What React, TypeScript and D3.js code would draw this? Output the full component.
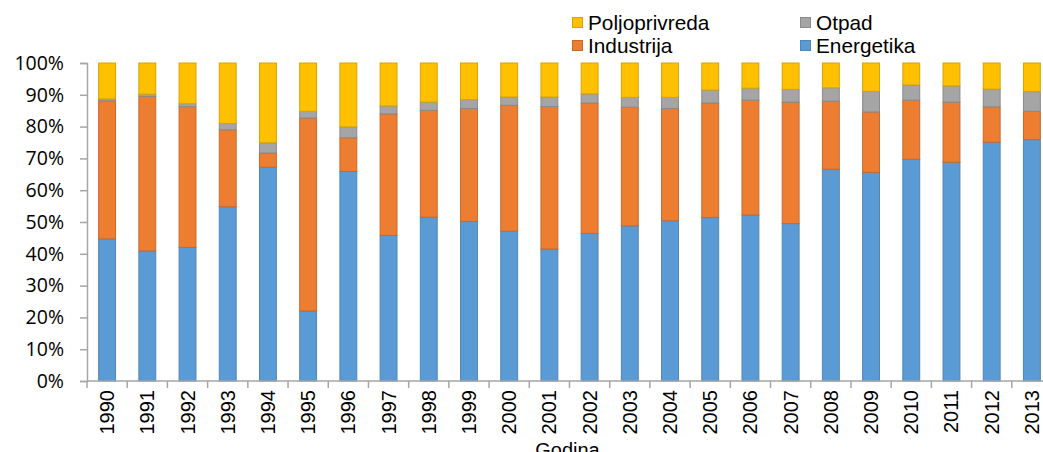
import React, { useEffect, useRef } from "react";
import * as d3 from "d3";

const years = [
  "1990", "1991", "1992", "1993", "1994", "1995", "1996", "1997",
  "1998", "1999", "2000", "2001", "2002", "2003", "2004", "2005",
  "2006", "2007", "2008", "2009", "2010", "2011", "2012", "2013",
];

// shares in %
const energetika = [
  44.7, 40.9, 42.0, 54.8, 67.2, 22.0, 65.9, 45.8, 51.5, 50.2, 47.1, 41.5,
  46.4, 48.8, 50.4, 51.4, 52.2, 49.5, 66.6, 65.6, 69.7, 68.8, 75.1, 75.9,
];
const industrija = [
  43.4, 48.6, 44.3, 24.2, 4.5, 60.7, 10.6, 38.2, 33.6, 35.5, 39.6, 44.8,
  41.0, 37.3, 35.3, 36.0, 36.1, 38.2, 21.4, 19.0, 18.6, 18.9, 11.1, 8.9,
];
const otpad = [
  0.6, 0.7, 0.9, 2.0, 3.2, 2.1, 3.4, 2.5, 2.6, 2.8, 2.6, 3.0,
  2.9, 3.1, 3.5, 4.1, 3.8, 4.0, 4.2, 6.5, 4.8, 5.1, 5.6, 6.2,
];
const poljoprivreda = [
  11.3, 9.8, 12.8, 19.0, 25.1, 15.2, 20.1, 13.5, 12.3, 11.5, 10.7, 10.7,
  9.7, 10.8, 10.8, 8.5, 7.9, 8.3, 7.8, 8.9, 6.9, 7.2, 8.2, 9.0,
];

const seriesKeys = ["Energetika", "Industrija", "Otpad", "Poljoprivreda"];
const yTicks = [0, 0.1, 0.2, 0.3, 0.4, 0.5, 0.6, 0.7, 0.8, 0.9, 1];

const colors: Record<string, string> = {
  Energetika: "#5B9BD5",
  Industrija: "#ED7D31",
  Otpad: "#A5A5A5",
  Poljoprivreda: "#FFC000",
};
const strokes: Record<string, string> = {
  Energetika: "#4F86B8",
  Industrija: "#C8692A",
  Otpad: "#8A8A8A",
  Poljoprivreda: "#D9A300",
};

const W = 1043;
const H = 452;

export default function App() {
  const svgRef = useRef<SVGSVGElement>(null);

  useEffect(() => {
    const svg = d3.select(svgRef.current);
    svg.selectAll("*").remove();

    const left = 87;
    const right = 1052;
    const top = 63;
    const bottom = 381;

    const rows = years.map((y, i) => {
      const total = energetika[i] + industrija[i] + otpad[i] + poljoprivreda[i];
      return {
        year: y,
        Energetika: energetika[i] / total,
        Industrija: industrija[i] / total,
        Otpad: otpad[i] / total,
        Poljoprivreda: poljoprivreda[i] / total,
      };
    });

    const x = d3.scaleBand().domain(years).range([left, right]).padding(0);
    const y = d3.scaleLinear().domain([0, 1]).range([bottom, top]);
    const barW = x.bandwidth() * 0.42;

    const stacked = d3.stack<any>().keys(seriesKeys)(rows);

    const g = svg.append("g");
    stacked.forEach((layer) => {
      g.append("g")
        .selectAll("rect")
        .data(layer)
        .enter()
        .append("rect")
        .attr("x", (d: any) => x(d.data.year)! + x.bandwidth() / 2 - barW / 2)
        .attr("y", (d) => y(d[1]))
        .attr("width", barW)
        .attr("height", (d) => y(d[0]) - y(d[1]))
        .attr("fill", colors[layer.key])
        .attr("stroke", strokes[layer.key])
        .attr("stroke-width", 1);
    });

    // y axis
    const yAxis = d3
      .axisLeft(y)
      .tickValues(yTicks)
      .tickFormat(d3.format(".0%"))
      .tickSize(7)
      .tickPadding(16);
    const ya = svg.append("g").attr("transform", `translate(${left},0)`).call(yAxis);
    ya.select(".domain").attr("stroke", "#A6A6A6").attr("stroke-width", 1.5);
    ya.selectAll(".tick line").attr("stroke", "#A6A6A6").attr("stroke-width", 1.5);
    ya.selectAll("text")
      .attr("fill", "#000")
      .attr("font-size", "19.5px")
      .attr("font-family", "'Open Sans', sans-serif");

    // x axis
    const xa = svg.append("g").attr("transform", `translate(0,${bottom})`);
    xa.append("line")
      .attr("x1", left)
      .attr("x2", right)
      .attr("stroke", "#A6A6A6")
      .attr("stroke-width", 1.5);
    xa.selectAll(".xt")
      .data(years)
      .enter()
      .append("line")
      .attr("x1", (d) => x(d)!)
      .attr("x2", (d) => x(d)!)
      .attr("y1", 0)
      .attr("y2", 7)
      .attr("stroke", "#A6A6A6")
      .attr("stroke-width", 1.5);
    xa.selectAll(".xl")
      .data(years)
      .enter()
      .append("text")
      .attr(
        "transform",
        (d) => `translate(${x(d)! + x.bandwidth() / 2 + 7},9) rotate(-90)`
      )
      .attr("text-anchor", "end")
      .attr("font-size", "20px")
      .attr("font-family", "'Liberation Sans', Arial, sans-serif")
      .attr("fill", "#000")
      .text((d) => d);

    // axis title, cut at the bottom edge as in the original
    svg
      .append("text")
      .attr("x", (left + right) / 2 - 2)
      .attr("y", 457)
      .attr("text-anchor", "middle")
      .attr("font-size", "20px")
      .attr("font-family", "'Liberation Sans', Arial, sans-serif")
      .attr("fill", "#000")
      .text("Godina");

    // legend
    const legendItems = [
      { key: "Poljoprivreda", lx: 572, ly: 17 },
      { key: "Otpad", lx: 800, ly: 17 },
      { key: "Industrija", lx: 572, ly: 40 },
      { key: "Energetika", lx: 800, ly: 40 },
    ];
    const lg = svg.append("g");
    legendItems.forEach((it) => {
      lg.append("rect")
        .attr("x", it.lx + 0.5)
        .attr("y", it.ly + 0.5)
        .attr("width", 10)
        .attr("height", 10)
        .attr("fill", colors[it.key])
        .attr("stroke", strokes[it.key]);
      lg.append("text")
        .attr("x", it.lx + 16)
        .attr("y", it.ly + 13)
        .attr("font-size", "20.8px")
        .attr("font-family", "'Liberation Sans', Arial, sans-serif")
        .attr("fill", "#000")
        .text(it.key);
    });
  }, []);

  return (
    <svg
      ref={svgRef}
      width={W}
      height={H}
      style={{ position: "absolute", left: 0, top: 0, background: "#fff" }}
    />
  );
}
